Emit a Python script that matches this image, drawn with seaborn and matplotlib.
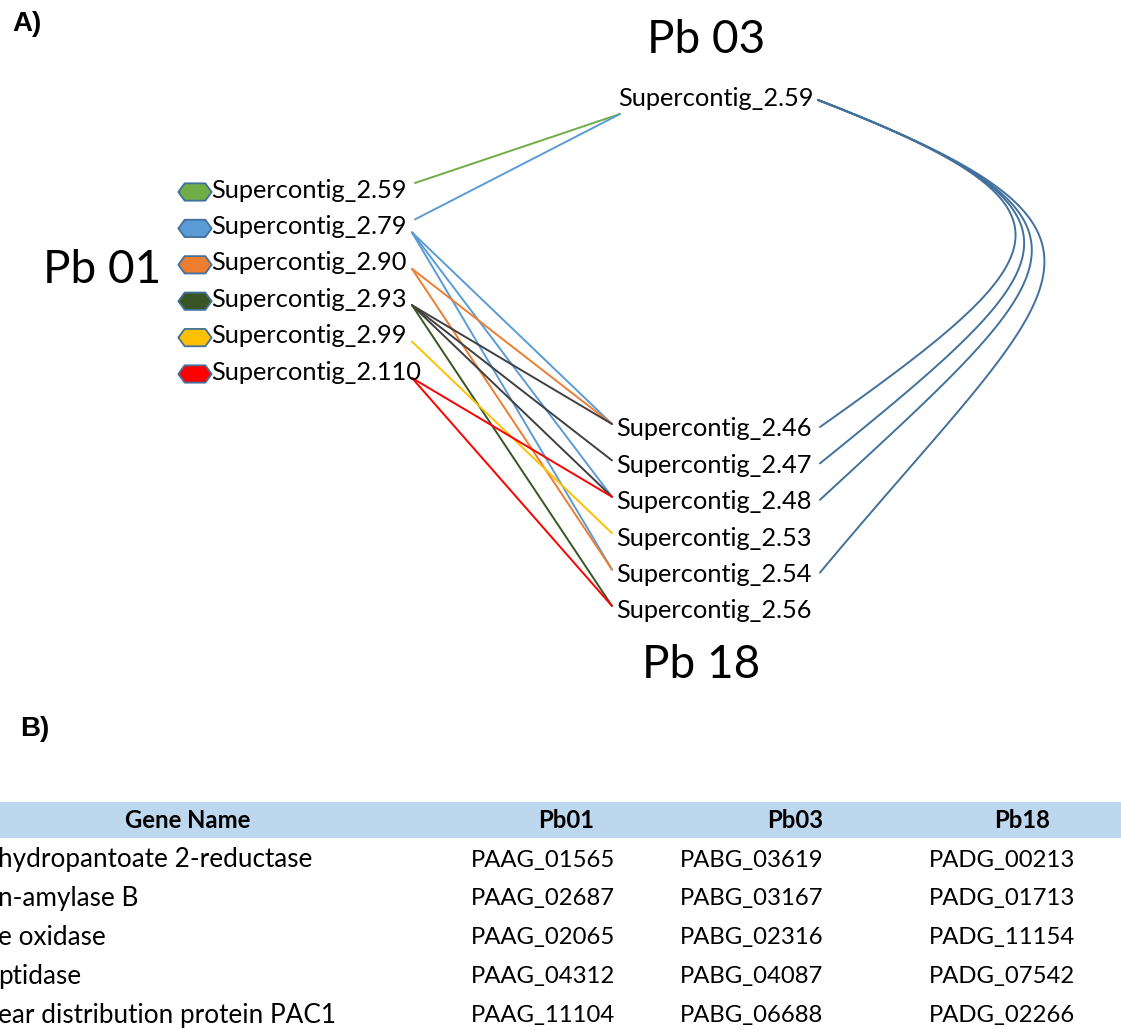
import numpy as np
import pandas as pd
import matplotlib
matplotlib.use("Agg")
import matplotlib.pyplot as plt
from matplotlib.path import Path
import seaborn as sns

# ---------------- data ----------------
pb01_nodes = ["Supercontig_2.59", "Supercontig_2.79", "Supercontig_2.90",
              "Supercontig_2.93", "Supercontig_2.99", "Supercontig_2.110"]
pb01_colors = ["#70AD47", "#5B9BD5", "#ED7D31", "#375623", "#FFC000", "#FF0000"]

pb03_nodes = ["Supercontig_2.59"]

pb18_nodes = ["Supercontig_2.46", "Supercontig_2.47", "Supercontig_2.48",
              "Supercontig_2.53", "Supercontig_2.54", "Supercontig_2.56"]

# Pb01 -> Pb03 links (source, target, colour)
links_01_03 = [("Supercontig_2.59", "Supercontig_2.59", "#70AD47"),
               ("Supercontig_2.79", "Supercontig_2.59", "#5B9BD5")]

# Pb01 -> Pb18 links
links_01_18 = [("Supercontig_2.79", "Supercontig_2.46", "#5B9BD5"),
               ("Supercontig_2.79", "Supercontig_2.48", "#5B9BD5"),
               ("Supercontig_2.79", "Supercontig_2.54", "#5B9BD5"),
               ("Supercontig_2.90", "Supercontig_2.46", "#ED7D31"),
               ("Supercontig_2.90", "Supercontig_2.54", "#ED7D31"),
               ("Supercontig_2.93", "Supercontig_2.46", "#404040"),
               ("Supercontig_2.93", "Supercontig_2.47", "#404040"),
               ("Supercontig_2.93", "Supercontig_2.48", "#404040"),
               ("Supercontig_2.93", "Supercontig_2.56", "#375623"),
               ("Supercontig_2.99", "Supercontig_2.53", "#FFC000"),
               ("Supercontig_2.110", "Supercontig_2.48", "#FF0000"),
               ("Supercontig_2.110", "Supercontig_2.56", "#FF0000")]

# Pb03 -> Pb18 links
links_03_18 = [("Supercontig_2.59", "Supercontig_2.46"),
               ("Supercontig_2.59", "Supercontig_2.47"),
               ("Supercontig_2.59", "Supercontig_2.48"),
               ("Supercontig_2.59", "Supercontig_2.54")]
curve_color = "#41719C"

# table
table_header = ["Gene Name", "Pb01", "Pb03", "Pb18"]
gene_names = ["hydropantoate 2-reductase", "n-amylase B", "e oxidase",
              "ptidase", "ear distribution protein PAC1"]
pb01_ids = ["PAAG_01565", "PAAG_02687", "PAAG_02065", "PAAG_04312", "PAAG_11104"]
pb03_ids = ["PABG_03619", "PABG_03167", "PABG_02316", "PABG_04087", "PABG_06688"]
pb18_ids = ["PADG_00213", "PADG_01713", "PADG_11154", "PADG_07542", "PADG_02266"]

# ---------------- layout ----------------
sns.set_theme(style="white")
FONT = ["Lato", "DejaVu Sans"]
plt.rcParams["font.family"] = FONT
plt.rcParams["text.color"] = "black"

W, H = 1121, 1030
fig = plt.figure(figsize=(W / 100, H / 100), dpi=100)
ax = fig.add_axes([0, 0, 1, 1])
ax.set_xlim(0, W)
ax.set_ylim(H, 0)
ax.axis("off")

LABEL_FS = 18.3
TABLE_FS = 17.2
GENE_FS = 18.8
GROUP_FS = 33

# node positions (pixel layout)
step = 36.4
y01 = {n: 190 + i * step for i, n in enumerate(pb01_nodes)}
y18 = {n: 429 + i * step for i, n in enumerate(pb18_nodes)}
y03 = {pb03_nodes[0]: 98}

x01_label, x01_end = 211, 415
x03_label, x03_left, x03_right = 618, 620, 818
x18_label, x18_left, x18_right = 616, 612, 820

# labels
for n in pb01_nodes:
    ax.text(x01_label, y01[n], n, fontsize=LABEL_FS, va="center", ha="left")
for n in pb03_nodes:
    ax.text(x03_label, y03[n], n, fontsize=LABEL_FS, va="center", ha="left")
for n in pb18_nodes:
    ax.text(x18_label, y18[n], n, fontsize=LABEL_FS, va="center", ha="left")

ax.text(102, 270, "Pb 01", fontsize=GROUP_FS, ha="center", va="center")
ax.text(706, 40, "Pb 03", fontsize=GROUP_FS, ha="center", va="center")
ax.text(701, 665, "Pb 18", fontsize=GROUP_FS, ha="center", va="center")

ax.text(12, 24, "A)", fontsize=20, fontweight="bold", ha="left", va="center",
        family=["Liberation Sans", "DejaVu Sans"])
ax.text(20, 729, "B)", fontsize=20, fontweight="bold", ha="left", va="center",
        family=["Liberation Sans", "DejaVu Sans"])

# hexagon markers for the Pb01 contigs
hex_path = Path([(-1.0, 0.0), (-0.62, 0.52), (0.62, 0.52), (1.0, 0.0),
                 (0.62, -0.52), (-0.62, -0.52), (-1.0, 0.0)],
                [Path.MOVETO] + [Path.LINETO] * 5 + [Path.CLOSEPOLY])
hex_df = pd.DataFrame({"x": [195] * len(pb01_nodes),
                       "y": [y01[n] + 2 for n in pb01_nodes],
                       "node": pb01_nodes})
sns.scatterplot(data=hex_df, x="x", y="y", hue="node",
                palette=dict(zip(pb01_nodes, pb01_colors)),
                marker=hex_path, s=24 ** 2, edgecolor="#41719C",
                linewidth=1.3, legend=False, ax=ax, zorder=4)

# straight links
rows = []
k = 0
for src, dst, col in links_01_03:
    rows += [dict(link=k, color=col, x=x01_end, y=y01[src] - 7),
             dict(link=k, color=col, x=x03_left, y=y03[dst] + 16)]
    k += 1
for src, dst, col in links_01_18:
    rows += [dict(link=k, color=col, x=x01_end - 3, y=y01[src] + 6),
             dict(link=k, color=col, x=x18_left, y=y18[dst] - 5)]
    k += 1
lines_df = pd.DataFrame(rows)
link_palette = dict(zip(lines_df["link"], lines_df["color"]))
sns.lineplot(data=lines_df, x="x", y="y", hue="link", units="link",
             estimator=None, sort=False, palette=link_palette,
             linewidth=1.4, legend=False, ax=ax)

# curved Pb03 -> Pb18 links as cubic Bezier arcs on the right
t = np.linspace(0, 1, 120)
crow = []
for j, (src, dst) in enumerate(links_03_18):
    p0 = np.array([x03_right, y03[src] + 2])
    p3 = np.array([x18_right, y18[dst] - 2])
    dy = p3[1] - p0[1]
    L = 120 + 0.55 * dy
    frac = (dy - 327) / (473 - 327)
    end_dir = np.array([0.82 - 0.18 * frac, -0.58 - 0.19 * frac])
    end_dir /= np.linalg.norm(end_dir)
    p1 = p0 + L * np.array([0.93, 0.36])
    p2 = p3 + L * end_dir
    pts = ((1 - t) ** 3)[:, None] * p0 + (3 * t * (1 - t) ** 2)[:, None] * p1 \
        + (3 * t ** 2 * (1 - t))[:, None] * p2 + (t ** 3)[:, None] * p3
    for px, py in pts:
        crow.append(dict(curve=j, x=px, y=py))
curves_df = pd.DataFrame(crow)
sns.lineplot(data=curves_df, x="x", y="y", units="curve", estimator=None,
             sort=False, color=curve_color, linewidth=1.4, legend=False, ax=ax)

ax.set_xlim(0, W)
ax.set_ylim(H, 0)
ax.set_xlabel("")
ax.set_ylabel("")

# ---------------- table ----------------
ax.axhspan(802, 838, xmin=0, xmax=1, color="#BDD7EE", lw=0, zorder=0)
head_x = [188, 566, 795, 1022]
for hx, h in zip(head_x, table_header):
    ax.text(hx, 820, h, fontsize=TABLE_FS, fontweight="bold",
            ha="center", va="center")

row_y0, row_step = 860, 38.8
col_x = [543, 752, 1002]
for i in range(len(gene_names)):
    yy = row_y0 + i * row_step
    ax.text(-2, yy, gene_names[i], fontsize=GENE_FS, ha="left", va="center")
    for cx, vals in zip(col_x, [pb01_ids, pb03_ids, pb18_ids]):
        ax.text(cx, yy, vals[i], fontsize=TABLE_FS, ha="center", va="center")

fig.savefig("out.png", dpi=100, facecolor="white")
